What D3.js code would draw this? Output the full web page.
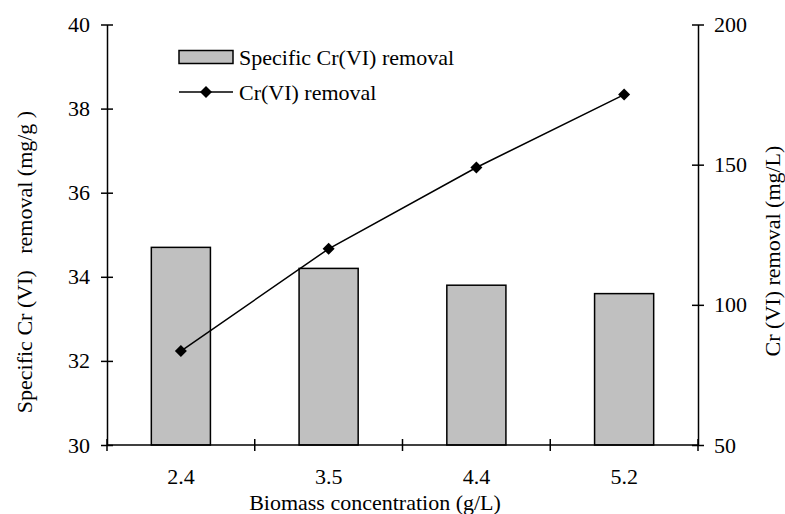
<!DOCTYPE html>
<html>
<head>
<meta charset="utf-8">
<script src="https://cdn.jsdelivr.net/npm/d3@7"></script>
<style>
  body { margin: 0; background: #fff; }
  svg text { font-family: "Liberation Serif", "Times New Roman", serif; fill: #000; }
</style>
</head>
<body>
<div id="chart"></div>
<script>
// chart data
var categories = ["2.4", "3.5", "4.4", "5.2"];
var specificRemoval = [34.7, 34.2, 33.8, 33.6];   // mg/g, left axis (bars)
var crRemoval = [83.5, 120, 149, 175];            // mg/L, right axis (line)
var leftTicks = [30, 32, 34, 36, 38, 40];
var rightTicks = [50, 100, 150, 200];

var W = 785, H = 514, FS = 22;
var m = { left: 107, right: 87, top: 24.5, bottom: 69 };
var pw = W - m.left - m.right, ph = H - m.top - m.bottom;

var svg = d3.select("#chart").append("svg")
  .attr("width", W).attr("height", H);

var g = svg.append("g").attr("transform", "translate(" + m.left + "," + m.top + ")");

var x = d3.scaleBand().domain(categories).range([0, pw]).paddingInner(0.6).paddingOuter(0.3);
var yL = d3.scaleLinear().domain([30, 40]).range([ph, 0]);
var yR = d3.scaleLinear().domain([50, 200]).range([ph, 0]);

// bars
g.selectAll(".bar").data(specificRemoval).enter().append("rect")
  .attr("class", "bar")
  .attr("x", function (d, i) { return x(categories[i]); })
  .attr("width", x.bandwidth())
  .attr("y", function (d) { return yL(d); })
  .attr("height", function (d) { return ph - yL(d); })
  .attr("fill", "#c0c0c0")
  .attr("stroke", "#000")
  .attr("stroke-width", 1.5);

// line
var line = d3.line()
  .x(function (d, i) { return x(categories[i]) + x.bandwidth() / 2; })
  .y(function (d) { return yR(d); });

g.append("path").datum(crRemoval)
  .attr("d", line)
  .attr("fill", "none")
  .attr("stroke", "#000")
  .attr("stroke-width", 1.5);

var diamond = d3.symbol().type(d3.symbolSquare).size(72);
g.selectAll(".pt").data(crRemoval).enter().append("path")
  .attr("class", "pt")
  .attr("d", diamond)
  .attr("transform", function (d, i) {
    return "translate(" + (x(categories[i]) + x.bandwidth() / 2) + "," + yR(d) + ") rotate(45)";
  })
  .attr("fill", "#000");

// axes
var step = pw / categories.length;
var xAxis = g.append("g").attr("transform", "translate(0," + ph + ")");
xAxis.append("line").attr("x1", 0).attr("x2", pw).attr("stroke", "#000").attr("stroke-width", 1.5);
xAxis.selectAll(".xt").data(d3.range(categories.length + 1)).enter().append("line")
  .attr("x1", function (d) { return d * step; }).attr("x2", function (d) { return d * step; })
  .attr("y1", -6).attr("y2", 6).attr("stroke", "#000").attr("stroke-width", 1.5);
xAxis.selectAll(".xl").data(categories).enter().append("text")
  .attr("x", function (d) { return x(d) + x.bandwidth() / 2; })
  .attr("y", 39)
  .attr("text-anchor", "middle")
  .attr("font-size", FS)
  .text(function (d) { return d; });

var leftAxis = d3.axisLeft(yL).tickValues(leftTicks).tickSizeInner(6).tickSizeOuter(0).tickPadding(11);
var gl = g.append("g").call(leftAxis);
var rightAxis = d3.axisRight(yR).tickValues(rightTicks).tickSizeInner(6).tickSizeOuter(0).tickPadding(10);
var gr = g.append("g").attr("transform", "translate(" + pw + ",0)").call(rightAxis);

[gl, gr].forEach(function (ax, k) {
  ax.attr("font-family", null).attr("font-size", FS);
  ax.select(".domain").attr("stroke", "#000").attr("stroke-width", 1.5);
  ax.selectAll(".tick line")
    .attr("x1", k === 0 ? 6 : -6)
    .attr("stroke", "#000").attr("stroke-width", 1.5);
  ax.selectAll(".tick text")
    .attr("font-size", FS)
    .attr("fill", "#000");
});

// axis titles
svg.append("text")
  .attr("transform", "translate(32,262) rotate(-90)")
  .attr("text-anchor", "middle")
  .attr("font-size", FS)
  .attr("xml:space", "preserve")
  .text("Specific Cr (VI)   removal (mg/g )");

svg.append("text")
  .attr("transform", "translate(780,251) rotate(-90)")
  .attr("text-anchor", "middle")
  .attr("font-size", FS)
  .text("Cr (VI) removal (mg/L)");

svg.append("text")
  .attr("x", 375)
  .attr("y", 510)
  .attr("text-anchor", "middle")
  .attr("font-size", FS)
  .text("Biomass concentration (g/L)");

// legend
var legend = svg.append("g");
legend.append("rect")
  .attr("x", 179).attr("y", 50.5).attr("width", 54).attr("height", 13)
  .attr("fill", "#c0c0c0").attr("stroke", "#000").attr("stroke-width", 1.5);
legend.append("text").attr("x", 239).attr("y", 65).attr("font-size", FS)
  .text("Specific Cr(VI) removal");
legend.append("line")
  .attr("x1", 179).attr("x2", 233).attr("y1", 92).attr("y2", 92)
  .attr("stroke", "#000").attr("stroke-width", 1.5);
legend.append("path").attr("d", diamond)
  .attr("transform", "translate(206,92) rotate(45)").attr("fill", "#000");
legend.append("text").attr("x", 239).attr("y", 100).attr("font-size", FS)
  .text("Cr(VI) removal");
</script>
</body>
</html>
